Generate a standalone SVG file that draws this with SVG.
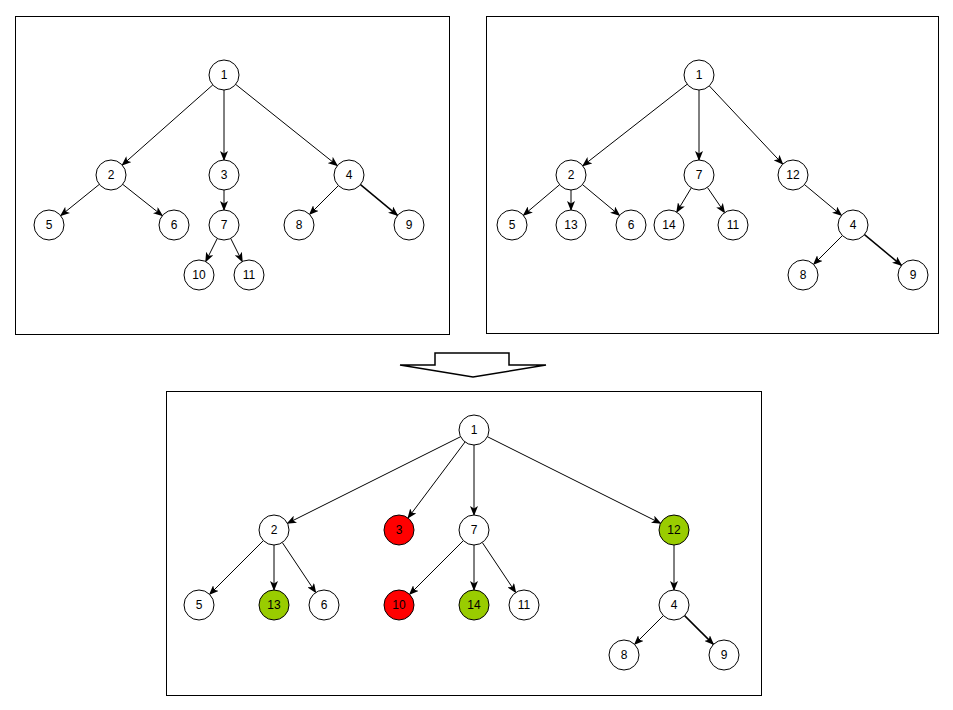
<svg xmlns="http://www.w3.org/2000/svg" width="953" height="710" viewBox="0 0 953 710">
<style>
.panel{fill:#fff;stroke:#000;stroke-width:1}
.n circle{fill:#fff;stroke:#000;stroke-width:1}
.n.red circle{fill:#ff0000}
.n.green circle{fill:#99cc00}
.n text{font-family:"Liberation Sans",Arial,sans-serif;font-size:12px;text-anchor:middle;dominant-baseline:central;fill:#000}
#edges line{stroke:#000;stroke-width:1;marker-end:url(#ah)}
</style>
<defs>
<marker id="ah" markerUnits="userSpaceOnUse" markerWidth="10" markerHeight="8" viewBox="0 0 10 8" refX="9" refY="4" orient="auto">
<path d="M0,0 L10,4 L0,8 L2.5,4 z" fill="#000"/>
</marker>
</defs>
<rect width="953" height="710" fill="#fff"/>
<rect class="panel" x="15.5" y="16.5" width="434" height="318"/>
<rect class="panel" x="486.5" y="16.5" width="452" height="317"/>
<rect class="panel" x="166.5" y="391.5" width="595" height="304"/>
<polygon points="435,353 509,353 509,365 546,365 473,377 400,365 435,365" fill="#fff" stroke="#000" stroke-width="1.5"/>
<g id="edges">
<line x1="212.8" y1="84.9" x2="122.2" y2="165.1"/>
<line x1="224" y1="90" x2="224" y2="160"/>
<line x1="235.7" y1="84.4" x2="337.3" y2="165.6"/>
<line x1="99.3" y1="184.4" x2="60.7" y2="215.6"/>
<line x1="122.7" y1="184.3" x2="162.3" y2="215.7"/>
<line x1="224" y1="190" x2="224" y2="210"/>
<line x1="338.4" y1="185.6" x2="309.6" y2="214.4"/>
<line x1="360.5" y1="184.6" x2="397.5" y2="215.4" style="stroke-width:1.5"/>
<line x1="217.3" y1="238.4" x2="205.7" y2="261.6"/>
<line x1="230.7" y1="238.4" x2="242.3" y2="261.6"/>
<line x1="687.2" y1="84.2" x2="582.8" y2="165.8"/>
<line x1="699" y1="90" x2="699" y2="160"/>
<line x1="709.3" y1="85.9" x2="782.7" y2="164.1"/>
<line x1="559.6" y1="184.7" x2="523.4" y2="215.3"/>
<line x1="571" y1="190" x2="571" y2="210"/>
<line x1="582.5" y1="184.6" x2="619.5" y2="215.4"/>
<line x1="691.3" y1="187.9" x2="676.7" y2="212.1"/>
<line x1="707.4" y1="187.4" x2="724.6" y2="212.6"/>
<line x1="804.5" y1="184.6" x2="841.5" y2="215.4"/>
<line x1="842.4" y1="235.6" x2="813.6" y2="264.4"/>
<line x1="864.5" y1="234.6" x2="901.5" y2="265.4" style="stroke-width:1.5"/>
<line x1="460.6" y1="436.7" x2="287.4" y2="523.3"/>
<line x1="465" y1="442" x2="408" y2="518"/>
<line x1="474" y1="445" x2="474" y2="515"/>
<line x1="487.4" y1="436.7" x2="660.6" y2="523.3"/>
<line x1="263.4" y1="540.6" x2="209.6" y2="594.4"/>
<line x1="274" y1="545" x2="274" y2="590"/>
<line x1="282.3" y1="542.5" x2="315.7" y2="592.5"/>
<line x1="463.4" y1="540.6" x2="409.6" y2="594.4"/>
<line x1="474" y1="545" x2="474" y2="590"/>
<line x1="482.3" y1="542.5" x2="515.7" y2="592.5"/>
<line x1="674" y1="545" x2="674" y2="590"/>
<line x1="663.4" y1="615.6" x2="634.6" y2="644.4"/>
<line x1="684.6" y1="615.6" x2="713.4" y2="644.4" style="stroke-width:1.5"/>
</g>
<g id="a1" class="n"><circle cx="224" cy="75" r="15"/><text x="224" y="75">1</text></g>
<g id="a2" class="n"><circle cx="111" cy="175" r="15"/><text x="111" y="175">2</text></g>
<g id="a3" class="n"><circle cx="224" cy="175" r="15"/><text x="224" y="175">3</text></g>
<g id="a4" class="n"><circle cx="349" cy="175" r="15"/><text x="349" y="175">4</text></g>
<g id="a5" class="n"><circle cx="49" cy="225" r="15"/><text x="49" y="225">5</text></g>
<g id="a6" class="n"><circle cx="174" cy="225" r="15"/><text x="174" y="225">6</text></g>
<g id="a7" class="n"><circle cx="224" cy="225" r="15"/><text x="224" y="225">7</text></g>
<g id="a8" class="n"><circle cx="299" cy="225" r="15"/><text x="299" y="225">8</text></g>
<g id="a9" class="n"><circle cx="409" cy="225" r="15"/><text x="409" y="225">9</text></g>
<g id="a10" class="n"><circle cx="199" cy="275" r="15"/><text x="199" y="275">10</text></g>
<g id="a11" class="n"><circle cx="249" cy="275" r="15"/><text x="249" y="275">11</text></g>
<g id="b1" class="n"><circle cx="699" cy="75" r="15"/><text x="699" y="75">1</text></g>
<g id="b2" class="n"><circle cx="571" cy="175" r="15"/><text x="571" y="175">2</text></g>
<g id="b7" class="n"><circle cx="699" cy="175" r="15"/><text x="699" y="175">7</text></g>
<g id="b12" class="n"><circle cx="793" cy="175" r="15"/><text x="793" y="175">12</text></g>
<g id="b5" class="n"><circle cx="512" cy="225" r="15"/><text x="512" y="225">5</text></g>
<g id="b13" class="n"><circle cx="571" cy="225" r="15"/><text x="571" y="225">13</text></g>
<g id="b6" class="n"><circle cx="631" cy="225" r="15"/><text x="631" y="225">6</text></g>
<g id="b14" class="n"><circle cx="669" cy="225" r="15"/><text x="669" y="225">14</text></g>
<g id="b11" class="n"><circle cx="733" cy="225" r="15"/><text x="733" y="225">11</text></g>
<g id="b4" class="n"><circle cx="853" cy="225" r="15"/><text x="853" y="225">4</text></g>
<g id="b8" class="n"><circle cx="803" cy="275" r="15"/><text x="803" y="275">8</text></g>
<g id="b9" class="n"><circle cx="913" cy="275" r="15"/><text x="913" y="275">9</text></g>
<g id="c1" class="n"><circle cx="474" cy="430" r="15"/><text x="474" y="430">1</text></g>
<g id="c2" class="n"><circle cx="274" cy="530" r="15"/><text x="274" y="530">2</text></g>
<g id="c3" class="n red"><circle cx="399" cy="530" r="15"/><text x="399" y="530">3</text></g>
<g id="c7" class="n"><circle cx="474" cy="530" r="15"/><text x="474" y="530">7</text></g>
<g id="c12" class="n green"><circle cx="674" cy="530" r="15"/><text x="674" y="530">12</text></g>
<g id="c5" class="n"><circle cx="199" cy="605" r="15"/><text x="199" y="605">5</text></g>
<g id="c13" class="n green"><circle cx="274" cy="605" r="15"/><text x="274" y="605">13</text></g>
<g id="c6" class="n"><circle cx="324" cy="605" r="15"/><text x="324" y="605">6</text></g>
<g id="c10" class="n red"><circle cx="399" cy="605" r="15"/><text x="399" y="605">10</text></g>
<g id="c14" class="n green"><circle cx="474" cy="605" r="15"/><text x="474" y="605">14</text></g>
<g id="c11" class="n"><circle cx="524" cy="605" r="15"/><text x="524" y="605">11</text></g>
<g id="c4" class="n"><circle cx="674" cy="605" r="15"/><text x="674" y="605">4</text></g>
<g id="c8" class="n"><circle cx="624" cy="655" r="15"/><text x="624" y="655">8</text></g>
<g id="c9" class="n"><circle cx="724" cy="655" r="15"/><text x="724" y="655">9</text></g>
</svg>
